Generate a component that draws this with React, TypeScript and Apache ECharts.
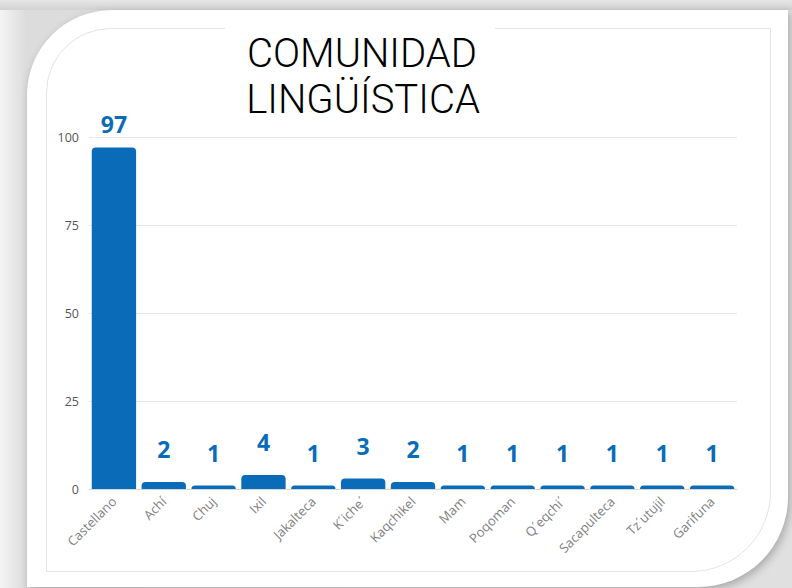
import React, { useEffect, useRef } from "react";
import * as echarts from "echarts";

const categories = ["Castellano", "Achí", "Chuj", "Ixil", "Jakalteca", "K´iche´", "Kaqchikel", "Mam", "Poqoman", "Q´eqchi´", "Sacapulteca", "Tz´utujil", "Garifuna"];
const values = [97, 2, 1, 4, 1, 3, 2, 1, 1, 1, 1, 1, 1];
const titleLines = ["COMUNIDAD", "LINGÜÍSTICA"];

export default function App() {
  const ref = useRef<HTMLDivElement>(null);
  useEffect(() => {
    if (!ref.current) return;
    const chart = echarts.init(ref.current, null, { renderer: "svg" });
    const blue = "#0a6cb8";
    chart.setOption({
      animation: false,
      backgroundColor: "transparent",
      grid: { left: 89, right: 55, top: 137, bottom: 99 },
      xAxis: {
        type: "category",
        data: categories,
        axisLine: { lineStyle: { color: "#d6d6d6" } },
        axisTick: { show: false },
        axisLabel: {
          rotate: 45,
          interval: 0,
          margin: 10,
          color: "#808080",
          fontFamily: "Open Sans",
          fontSize: 13,
        },
      },
      yAxis: {
        type: "value",
        min: 0,
        max: 100,
        interval: 25,
        axisLine: { show: false },
        axisTick: { show: false },
        splitLine: { lineStyle: { color: "#e6e6e6" } },
        axisLabel: { color: "#555", fontFamily: "Open Sans", fontSize: 12.5, margin: 10 },
      },
      series: [
        {
          type: "bar",
          barCategoryGap: "11%",
          data: values.map((v, i) => ({
            value: v,
            label: { distance: i === 0 ? 12 : 21 },
          })),
          itemStyle: { color: blue, borderRadius: [4, 4, 0, 0] },
          label: {
            show: true,
            position: "top",
            color: blue,
            fontFamily: "Open Sans",
            fontWeight: "bold",
            fontSize: 23,
          },
        },
      ],
      graphic: [
        {
          type: "rect",
          z: 50,
          shape: { x: 225, y: 24, width: 270, height: 10 },
          style: { fill: "#ffffff" },
        },
        {
          type: "text",
          z: 60,
          x: 362,
          y: 53,
          style: {
            text: titleLines[0],
            fill: "#000",
            fontFamily: "Roboto",
            fontWeight: 300,
            fontSize: 40,
            align: "center",
            verticalAlign: "middle",
          },
        },
        {
          type: "text",
          z: 60,
          x: 363,
          y: 99,
          style: {
            text: titleLines[1],
            fill: "#000",
            fontFamily: "Roboto",
            fontWeight: 300,
            fontSize: 40,
            align: "center",
            verticalAlign: "middle",
          },
        },
      ],
    });
    return () => chart.dispose();
  }, []);

  return (
    <div
      style={{
        position: "fixed",
        left: 0,
        top: 0,
        width: 792,
        height: 588,
        overflow: "hidden",
        background: "linear-gradient(90deg, #f4f4f4 0px, #dcdcdc 26px, #e0e0e0 100%)",
      }}
    >
      <div
        style={{
          position: "absolute",
          left: 0,
          top: 0,
          width: 792,
          height: 10,
          background: "linear-gradient(180deg, #e6e6e6 0px, #d2d2d2 10px)",
        }}
      />
      <div
        style={{
          position: "absolute",
          left: 27,
          top: 10,
          width: 761,
          height: 577,
          background: "#ffffff",
          borderRadius: "85px 0 90px 0",
          boxShadow: "2px 3px 8px rgba(0,0,0,0.25)",
        }}
      />
      <div
        style={{
          position: "absolute",
          left: 46,
          top: 28,
          width: 723,
          height: 542,
          border: "1px solid #e3e3e3",
          borderRadius: "65px 0 80px 0",
        }}
      />
      <div ref={ref} style={{ position: "absolute", left: 0, top: 0, width: 792, height: 588 }} />
    </div>
  );
}
